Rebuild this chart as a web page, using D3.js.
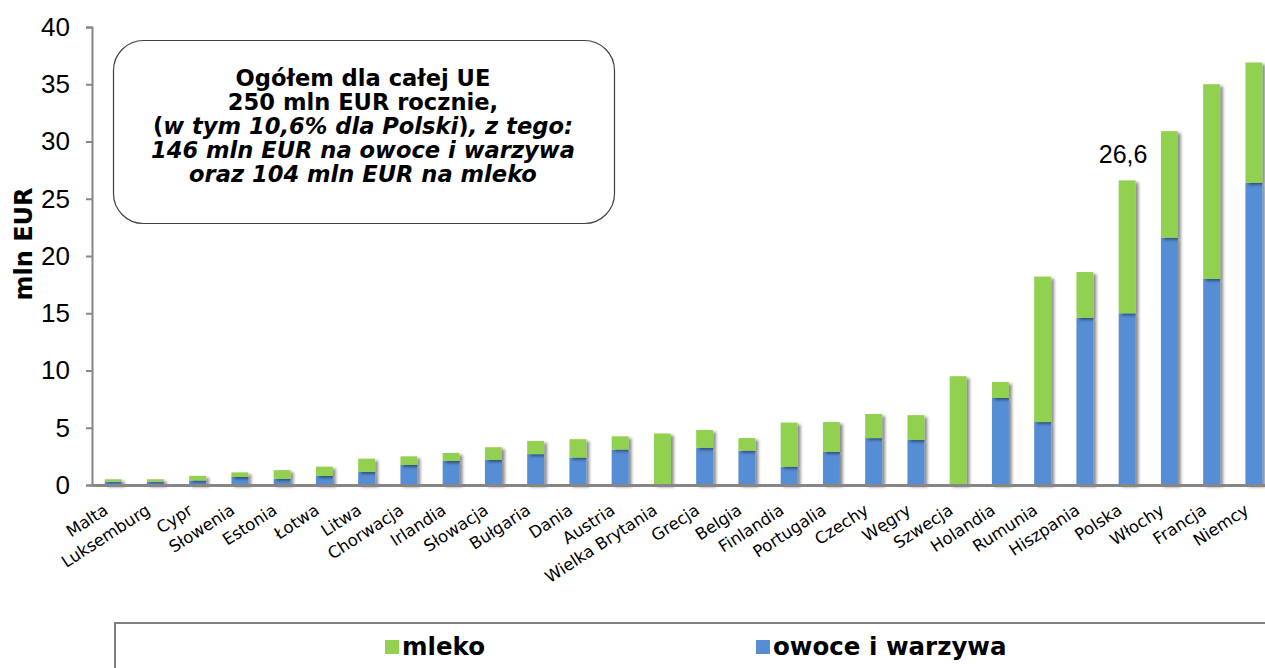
<!DOCTYPE html>
<html>
<head>
<meta charset="utf-8">
<script src="https://cdn.jsdelivr.net/npm/d3@7"></script>
<style>
  body { margin: 0; background: #fff; overflow: hidden; }
  svg { display: block; }
</style>
</head>
<body>
<div id="chart"></div>
<script>
// Countries, sorted by total allocation
const countries = ["Malta", "Luksemburg", "Cypr", "Słowenia", "Estonia", "Łotwa", "Litwa",
  "Chorwacja", "Irlandia", "Słowacja", "Bułgaria", "Dania", "Austria", "Wielka Brytania",
  "Grecja", "Belgia", "Finlandia", "Portugalia", "Czechy", "Węgry", "Szwecja", "Holandia",
  "Rumunia", "Hiszpania", "Polska", "Włochy", "Francja", "Niemcy"];

// owoce i warzywa (mln EUR)
const owoce = [0.3, 0.3, 0.4, 0.7, 0.55, 0.8, 1.15, 1.75, 2.1, 2.2, 2.7, 2.4, 3.1, 0,
  3.25, 3.0, 1.6, 2.9, 4.1, 3.95, 0, 7.6, 5.5, 14.6, 15.0, 21.6, 18.0, 26.4];

// mleko (mln EUR)
const mleko = [0.2, 0.2, 0.4, 0.4, 0.75, 0.8, 1.15, 0.75, 0.7, 1.1, 1.15, 1.6, 1.15, 4.5,
  1.55, 1.1, 3.85, 2.6, 2.1, 2.15, 9.5, 1.4, 12.7, 4.0, 11.6, 9.3, 17.0, 10.5];

const yTicks = [0, 5, 10, 15, 20, 25, 30, 35, 40];
const highlight = { country: "Polska", label: "26,6" };

const boxLines = [
  [{ t: "Ogółem dla całej UE", i: false }],
  [{ t: "250 mln EUR rocznie,", i: false }],
  [{ t: "(", i: false }, { t: "w tym 10,6% dla Polski", i: true }, { t: ")", i: false }, { t: ", z tego:", i: true }],
  [{ t: "146 mln EUR na owoce i warzywa", i: true }],
  [{ t: "oraz 104 mln EUR na mleko", i: true }]
];

const GREEN = "#92d050";
const BLUE = "#558ed5";
const AXIS = "#868686";

const width = 1265, height = 668;
const svg = d3.select("#chart").append("svg")
  .attr("width", width)
  .attr("height", height);

// soft shadow like the office chart
const defs = svg.append("defs");
const f = defs.append("filter").attr("id", "shadow")
  .attr("x", "-50%").attr("y", "-10%").attr("width", "200%").attr("height", "130%");
f.append("feDropShadow").attr("dx", 3).attr("dy", 2).attr("stdDeviation", 1.6)
  .attr("flood-color", "#000").attr("flood-opacity", 0.45);

const x = d3.scaleBand().domain(countries).range([92, 1275]).paddingInner(0.6).paddingOuter(0.3);
const y = d3.scaleLinear().domain([0, 40]).range([485, 27]);

const rows = countries.map((c, i) => ({ country: c, owoce: owoce[i], mleko: mleko[i] }));
const stack = d3.stack().keys(["owoce", "mleko"])(rows);
const colors = { owoce: BLUE, mleko: GREEN };

// bars
const barG = svg.append("g");
stack.forEach(layer => {
  barG.append("g")
    .attr("fill", colors[layer.key])
    .attr("filter", "url(#shadow)")
    .selectAll("rect")
    .data(layer)
    .join("rect")
    .attr("x", d => x(d.data.country))
    .attr("width", x.bandwidth())
    .attr("y", d => y(d[1]))
    .attr("height", d => Math.max(0, y(d[0]) - y(d[1])));
});

// y axis
const yAxis = svg.append("g")
  .attr("transform", "translate(92,0)")
  .call(d3.axisLeft(y).tickValues(yTicks).tickSize(6).tickPadding(16));
yAxis.select(".domain").attr("stroke", AXIS).attr("stroke-width", 2);
yAxis.selectAll(".tick line").attr("stroke", AXIS).attr("stroke-width", 2);
yAxis.selectAll(".tick text")
  .attr("fill", "#000")
  .style("font", "26px 'Liberation Sans', Arial, sans-serif");

// x axis
const xAxis = svg.append("g")
  .attr("transform", "translate(0,485)")
  .call(d3.axisBottom(x).tickSize(0).tickSizeOuter(0).tickFormat(() => ""));
xAxis.select(".domain").attr("stroke", AXIS).attr("stroke-width", 3);

// rotated category labels
svg.append("g").selectAll("text")
  .data(countries)
  .join("text")
  .attr("transform", d => `translate(${x(d) + x.bandwidth() / 2 - 4},513) rotate(-33)`)
  .attr("text-anchor", "end")
  .style("font", "16.5px 'DejaVu Sans', Verdana, sans-serif")
  .text(d => d);

// axis title
svg.append("text")
  .attr("transform", "translate(32,244) rotate(-90)")
  .attr("text-anchor", "middle")
  .style("font", "bold 24px 'DejaVu Sans', Verdana, sans-serif")
  .text("mln EUR");

// value label for Poland
const hi = rows.find(r => r.country === highlight.country);
svg.append("text")
  .attr("x", x(hi.country) + x.bandwidth() / 2 - 4)
  .attr("y", y(hi.owoce + hi.mleko) - 17)
  .attr("text-anchor", "middle")
  .style("font", "25px 'Liberation Sans', Arial, sans-serif")
  .text(highlight.label);

// annotation box
svg.append("rect")
  .attr("x", 113.5).attr("y", 40.5)
  .attr("width", 501).attr("height", 183)
  .attr("rx", 30).attr("ry", 30)
  .attr("fill", "#fff")
  .attr("stroke", "#404040")
  .attr("stroke-width", 1.2);

const boxText = svg.append("text")
  .attr("text-anchor", "middle")
  .style("font", "bold 22.6px 'DejaVu Sans', Verdana, sans-serif");
boxLines.forEach((line, li) => {
  const tl = boxText.append("tspan").attr("x", 363).attr("y", 86 + li * 24);
  line.forEach(part => {
    tl.append("tspan").style("font-style", part.i ? "italic" : "normal").text(part.t);
  });
});

// legend
svg.append("rect")
  .attr("x", 115).attr("y", 623)
  .attr("width", 1200).attr("height", 100)
  .attr("fill", "none")
  .attr("stroke", "#808080")
  .attr("stroke-width", 2);

const legendItems = [
  { name: "mleko", color: GREEN, x: 385 },
  { name: "owoce i warzywa", color: BLUE, x: 756 }
];
const lg = svg.append("g").selectAll("g").data(legendItems).join("g")
  .attr("transform", d => `translate(${d.x},640)`);
lg.append("rect").attr("width", 14).attr("height", 14).attr("fill", d => d.color);
lg.append("text")
  .attr("x", 17).attr("y", 15)
  .style("font", "bold 24.5px 'DejaVu Sans', Verdana, sans-serif")
  .text(d => d.name);
</script>
</body>
</html>
